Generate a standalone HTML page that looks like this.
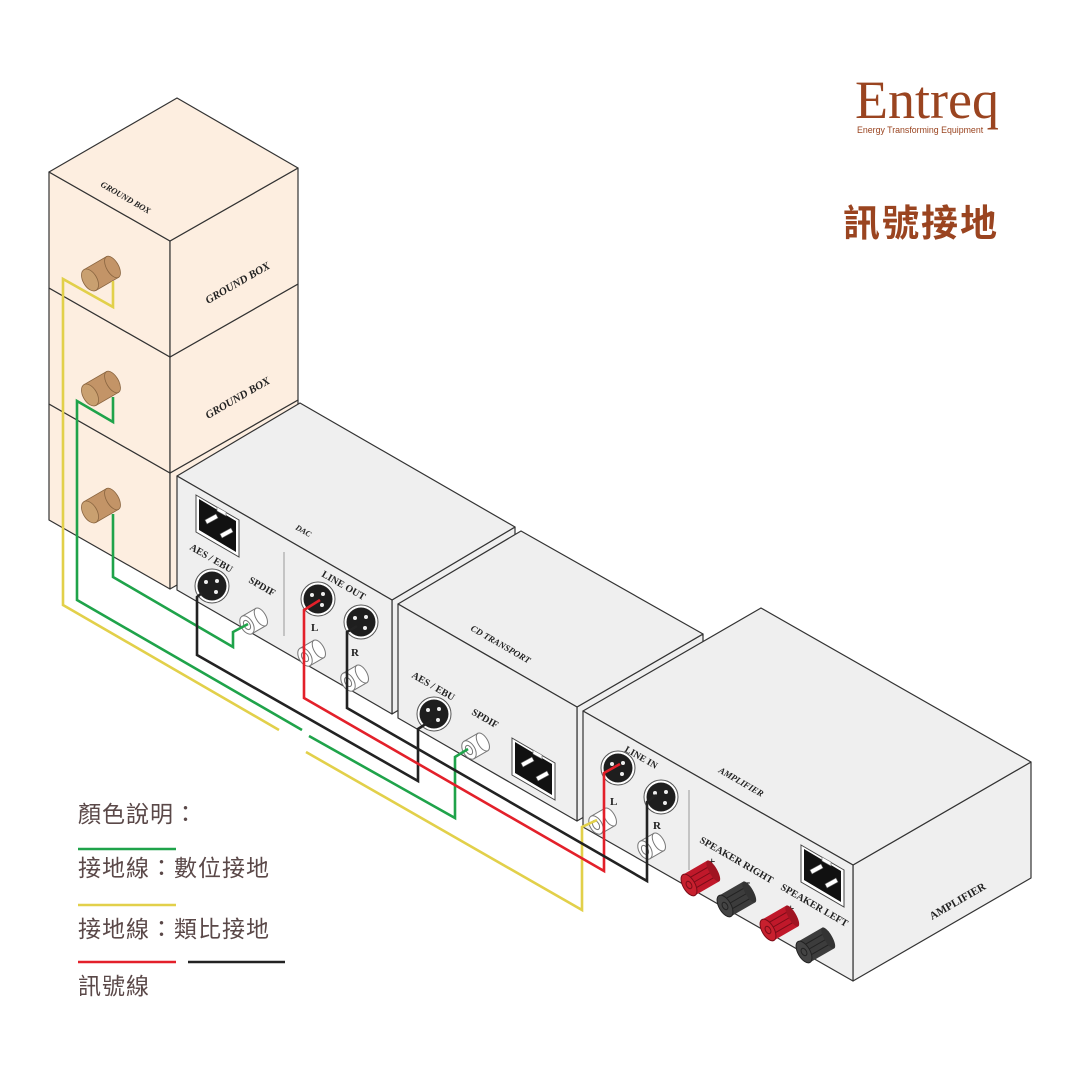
<!DOCTYPE html>
<html><head><meta charset="utf-8"><style>
html,body{margin:0;padding:0;background:#fff}
svg{display:block}
.t{font-family:"Liberation Serif",serif;font-weight:bold;fill:#222}
.i{font-family:"Liberation Serif",serif;font-style:italic;font-weight:bold;fill:#222}
.cj{font-family:"Liberation Sans","Noto Sans CJK TC",sans-serif;fill:#5a4848;font-size:23px;letter-spacing:1px}
</style></head><body>
<svg width="1080" height="1080" viewBox="0 0 1080 1080" xmlns="http://www.w3.org/2000/svg">
<defs>
<g id="xlr"><circle r="17" fill="#fff" stroke="#555" stroke-width="1"/><circle r="14.5" fill="#1e1e1e"/><circle cx="-6" cy="-4" r="2" fill="#eee"/><circle cx="5" cy="-5" r="2" fill="#eee"/><circle cx="4" cy="6" r="2" fill="#eee"/></g>
<g id="rca"><g transform="rotate(-30)"><rect x="0" y="-10" width="16" height="20" fill="#fff" stroke="#777" stroke-width="1"/><ellipse cx="16" cy="0" rx="5" ry="10" fill="#fff" stroke="#777" stroke-width="1"/><ellipse cx="0" cy="0" rx="6" ry="10" fill="#fff" stroke="#777" stroke-width="1"/><ellipse cx="0" cy="0" rx="3" ry="5" fill="#fff" stroke="#777" stroke-width="1"/></g></g>
<g id="knob"><g transform="rotate(-30)"><rect x="0" y="-12" width="26" height="24" fill="#c39467" stroke="#8a6540" stroke-width="0.8"/><ellipse cx="26" cy="0" rx="6" ry="12" fill="#c39467" stroke="#8a6540" stroke-width="0.8"/><ellipse cx="0" cy="0" rx="7" ry="12" fill="#c9a070" stroke="#8a6540" stroke-width="0.8"/></g></g>
<g id="postr"><g transform="rotate(-30)"><rect x="0" y="-12" width="28" height="24" fill="#c0182a"/><line x1="4" y1="-6" x2="26" y2="-6" stroke="#7a0c18"/><line x1="4" y1="0" x2="26" y2="0" stroke="#7a0c18"/><line x1="4" y1="6" x2="26" y2="6" stroke="#7a0c18"/><ellipse cx="28" cy="0" rx="4" ry="12" fill="#a01422"/><ellipse cx="0" cy="0" rx="6" ry="12" fill="#c8202e" stroke="#7a0c18"/><ellipse cx="0" cy="0" rx="2.5" ry="4" fill="none" stroke="#7a0c18"/></g></g>
<g id="postb"><g transform="rotate(-30)"><rect x="0" y="-12" width="28" height="24" fill="#3c3c3c"/><line x1="4" y1="-6" x2="26" y2="-6" stroke="#222"/><line x1="4" y1="0" x2="26" y2="0" stroke="#222"/><line x1="4" y1="6" x2="26" y2="6" stroke="#222"/><ellipse cx="28" cy="0" rx="4" ry="12" fill="#333"/><ellipse cx="0" cy="0" rx="6" ry="12" fill="#444" stroke="#222"/><ellipse cx="0" cy="0" rx="2.5" ry="4" fill="none" stroke="#222"/></g></g>
<g id="pwr"><polygon points="0,0 43,25 43,62 0,37" fill="#fff" stroke="#444"/><polygon points="3,4 40,26 40,57 3,35" fill="#111"/><g fill="#fff" stroke="#666" stroke-width="0.6"><polygon points="21,12 30,17 30,21 21,16"/><polygon points="9,25 20,19 22,23 11,29"/><polygon points="24,39 35,33 37,37 26,43"/></g></g>
</defs>

<!-- ground boxes -->
<g stroke="#333" stroke-width="1.2" fill="#fdeee0" stroke-linejoin="round">
<polygon points="49,404 170,473 170,589 49,520"/>
<polygon points="170,473 298,400 298,516 170,589"/>
<polygon points="49,288 170,357 170,473 49,404"/>
<polygon points="170,357 298,284 298,400 170,473"/>
<polygon points="49,172 170,241 170,357 49,288"/>
<polygon points="170,241 298,168 298,284 170,357"/>
<polygon points="49,172 177,98 298,168 170,241"/>
</g>
<text class="i" font-size="8.5" transform="translate(100,186) rotate(30)">GROUND BOX</text>
<text class="i" font-size="11" transform="translate(208,304) rotate(-30)">GROUND BOX</text>
<text class="i" font-size="11" transform="translate(208,419) rotate(-30)">GROUND BOX</text>
<use href="#knob" x="90" y="280"/>
<use href="#knob" x="90" y="395"/>
<use href="#knob" x="90" y="512"/>

<!-- DAC -->
<g stroke="#333" stroke-width="1.2" fill="#efefef" stroke-linejoin="round">
<polygon points="392,600 515,527 515,641 392,714"/>
<polygon points="177,476 300,403 515,527 392,600"/>
<polygon points="177,476 392,600 392,714 177,590"/>
</g>
<line x1="284" y1="552" x2="284" y2="636" stroke="#999" stroke-width="1"/>
<use href="#pwr" x="196" y="495"/>
<text class="i" font-size="8" transform="translate(295,529) rotate(30)">DAC</text>
<text class="t" font-size="10" transform="translate(189,549) rotate(30)">AES / EBU</text>
<text class="t" font-size="10" transform="translate(248,582) rotate(30)">SPDIF</text>
<text class="t" font-size="10" transform="translate(321,576) rotate(30)">LINE OUT</text>
<text class="t" font-size="11" x="311" y="631">L</text>
<text class="t" font-size="11" x="351" y="656">R</text>
<use href="#xlr" x="212" y="586"/>
<use href="#xlr" x="318" y="599"/>
<use href="#xlr" x="361" y="622"/>
<use href="#rca" x="247" y="625"/>
<use href="#rca" x="305" y="657"/>
<use href="#rca" x="348" y="682"/>

<!-- CD transport -->
<g stroke="#333" stroke-width="1.2" fill="#efefef" stroke-linejoin="round">
<polygon points="577,707 703,634 703,748 577,821"/>
<polygon points="398,604 521,531 703,634 577,707"/>
<polygon points="398,604 577,707 577,821 398,718"/>
</g>
<use href="#pwr" x="512" y="738"/>
<text class="i" font-size="9" transform="translate(470,630) rotate(30)">CD TRANSPORT</text>
<text class="t" font-size="10" transform="translate(411,677) rotate(30)">AES / EBU</text>
<text class="t" font-size="10" transform="translate(471,714) rotate(30)">SPDIF</text>
<use href="#xlr" x="434" y="714"/>
<use href="#rca" x="469" y="750"/>

<!-- Amplifier -->
<g stroke="#333" stroke-width="1.2" fill="#efefef" stroke-linejoin="round">
<polygon points="853,865 1031,762 1031,878 853,981"/>
<polygon points="583,711 761,608 1031,762 853,865"/>
<polygon points="583,711 853,865 853,981 583,827"/>
</g>
<line x1="689" y1="790" x2="689" y2="870" stroke="#999" stroke-width="1"/>
<use href="#pwr" x="801" y="845"/>
<text class="i" font-size="9" transform="translate(718,772) rotate(30)">AMPLIFIER</text>
<text class="t" font-size="11" transform="translate(932,920) rotate(-30)">AMPLIFIER</text>
<text class="t" font-size="9.5" transform="translate(624,751) rotate(30)">LINE IN</text>
<text class="t" font-size="11" x="610" y="805">L</text>
<text class="t" font-size="11" x="653" y="829">R</text>
<text class="t" font-size="10" transform="translate(699,842) rotate(30)">SPEAKER RIGHT</text>
<text class="t" font-size="13" x="708" y="866">+</text>
<text class="t" font-size="13" x="746" y="886">-</text>
<text class="t" font-size="10" transform="translate(780,889) rotate(30)">SPEAKER LEFT</text>
<text class="t" font-size="13" x="787" y="913">+</text>
<text class="t" font-size="13" x="825" y="935">-</text>
<use href="#xlr" x="618" y="768"/>
<use href="#xlr" x="661" y="797"/>
<use href="#rca" x="596" y="825"/>
<use href="#rca" x="645" y="850"/>
<use href="#postr" x="689" y="885"/>
<use href="#postb" x="725" y="906"/>
<use href="#postr" x="768" y="930"/>
<use href="#postb" x="804" y="952"/>

<!-- wires -->
<g fill="none" stroke-width="2.6" stroke-linejoin="miter">
<polyline stroke="#e2d04a" points="113,281 113,307 63,279 63,605 279,730"/>
<polyline stroke="#e2d04a" points="306,752 582,910 582,827 597,820"/>
<polyline stroke="#1fa34a" points="113,397 113,422 77,401 77,600 302,730"/>
<polyline stroke="#1fa34a" points="309,736 455,818 455,757 468,749"/>
<polyline stroke="#1fa34a" points="113,514 113,577 233,647 233,632 248,624"/>
<polyline stroke="#222" points="202,593 197,597 197,655 418,781 418,729 432,720"/>
<polyline stroke="#e3202a" points="320,600 304,610 304,698 604,871 604,773 620,764"/>
<polyline stroke="#222" points="357,626 347,632 347,708 647,881 647,802 656,795"/>
</g>

<!-- logo -->
<text x="855" y="118" font-family="Liberation Serif,serif" font-size="54" fill="#9a4420">Entreq</text>
<text x="857" y="133" font-family="Liberation Sans,sans-serif" font-size="8.8" fill="#9a4420">Energy Transforming Equipment</text>
<text x="843" y="236" font-family="Liberation Sans,'Noto Sans CJK TC',sans-serif" font-weight="bold" font-size="37" fill="#9a4420" letter-spacing="2">訊號接地</text>

<!-- legend -->
<text class="cj" x="78" y="822">顏色說明：</text>
<line x1="78" y1="849" x2="176" y2="849" stroke="#1fa34a" stroke-width="2.5"/>
<text class="cj" x="78" y="876">接地線：數位接地</text>
<line x1="78" y1="905" x2="176" y2="905" stroke="#e2d04a" stroke-width="2.5"/>
<text class="cj" x="78" y="937">接地線：類比接地</text>
<line x1="78" y1="962" x2="176" y2="962" stroke="#e3202a" stroke-width="2.5"/>
<line x1="188" y1="962" x2="285" y2="962" stroke="#222" stroke-width="2.5"/>
<text class="cj" x="78" y="994">訊號線</text>
</svg>
</body></html>
